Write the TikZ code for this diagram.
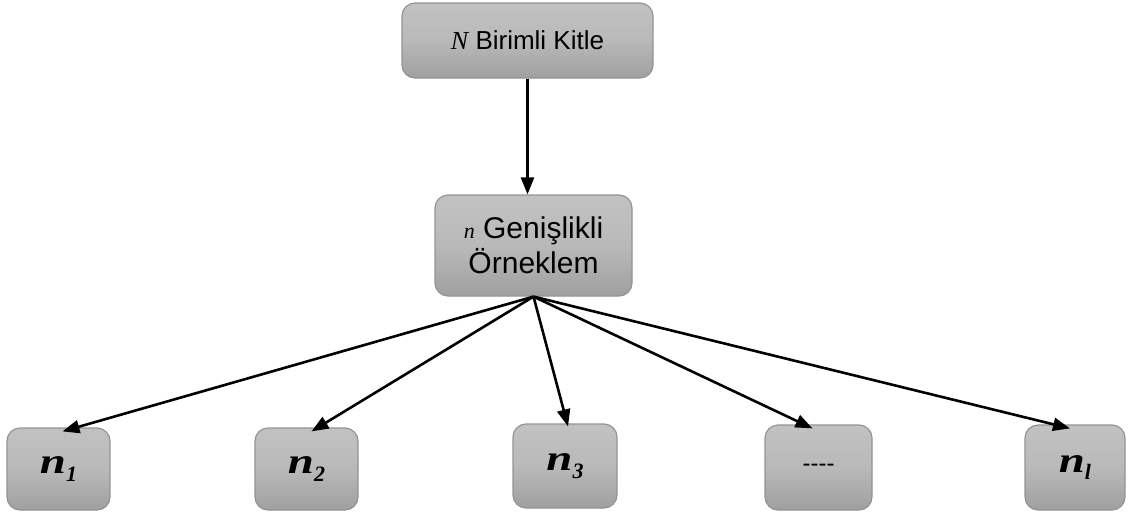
\documentclass[tikz,border=0pt]{standalone}
\usepackage{fontspec}
\setmainfont{Liberation Sans}
\newfontfamily\tms{Liberation Serif}
\usetikzlibrary{arrows.meta}
\tikzset{
  gbox/.style={rounded corners=13pt, top color=gray!48, bottom color=gray!75, middle color=gray!55, draw=gray!85, line width=1.2pt, inner sep=0pt, align=center},
  conn/.style={line width=2.6pt, -{Triangle[length=17pt,width=13pt]}}
}
\newcommand{\nlab}[1]{{\fontsize{36}{36}\selectfont\tms\bfseries\itshape \scalebox{1.3}[1]{n}\raisebox{-0.22em}{\fontsize{22}{22}\selectfont #1}}}
\begin{document}
\begin{tikzpicture}[x=1pt,y=-1pt]
\useasboundingbox (0,0) rectangle (1129,514);
\node[gbox, minimum width=251pt, minimum height=75pt, font=\fontsize{26}{28}\selectfont] (top) at (527.5,40.5)
  {{\tms\itshape N} Birimli Kitle};
\node[gbox, minimum width=197pt, minimum height=101pt, font=\fontsize{30}{35}\selectfont] (mid) at (533.5,245.5)
  {{\tms\itshape\fontsize{22}{22}\selectfont n} Genişlikli\\Örneklem};
\node[gbox, minimum width=103pt, minimum height=82pt] (n1) at (58.5,469) {\nlab{1}};
\node[gbox, minimum width=103pt, minimum height=82pt] (n2) at (306.5,469) {\nlab{2}};
\node[gbox, minimum width=104pt, minimum height=84pt] (n3) at (565,466) {\nlab{3}};
\node[gbox, minimum width=107pt, minimum height=85pt, font=\fontsize{24}{24}\selectfont] (dots) at (818.5,467.5) {-{}-{}-{}-};
\node[gbox, minimum width=100pt, minimum height=85pt] (nl) at (1075,467.5) {\nlab{l}};
\draw[conn] (top.south) -- (top.south |- mid.north);
\draw[conn] (mid.south) -- ([xshift=4pt,yshift=-4pt]n1.north);
\draw[conn] (mid.south) -- ([xshift=5pt,yshift=-4pt]n2.north);
\draw[conn] (mid.south) -- ([xshift=3pt,yshift=-3pt]n3.north);
\draw[conn] (mid.south) -- ([xshift=-6pt,yshift=-4pt]dots.north);
\draw[conn] (mid.south) -- ([xshift=-5pt,yshift=-4pt]nl.north);
\end{tikzpicture}
\end{document}
